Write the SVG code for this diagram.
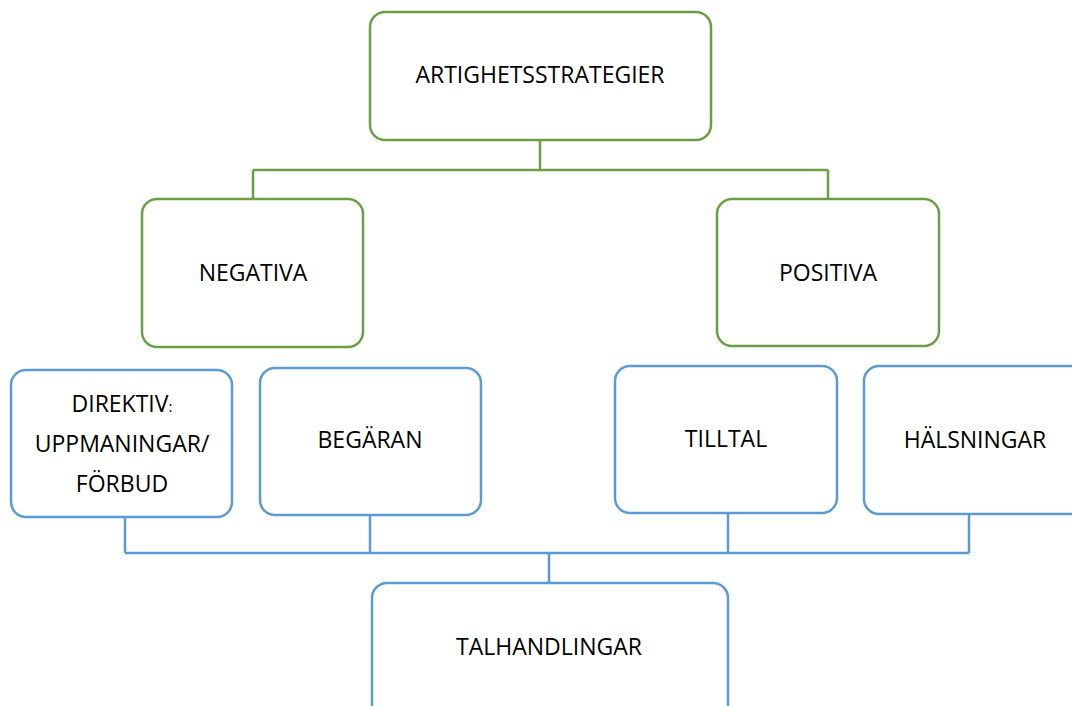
<svg xmlns="http://www.w3.org/2000/svg" width="1072" height="706" viewBox="0 0 1072 706">
<style>
.g{fill:#fff;stroke:#6c9f44;stroke-width:2.5}
.b{fill:#fff;stroke:#5b9bd5;stroke-width:2.5}
.cg{fill:none;stroke:#6c9f44;stroke-width:2.5}
.cb{fill:none;stroke:#5b9bd5;stroke-width:2.5}
text{font-family:"Open Sans","Liberation Sans",sans-serif;font-size:23px;fill:#000;text-anchor:middle}
</style>
<rect width="1072" height="706" fill="#fff"/>
<g id="connectors">
<path class="cg" d="M540,140 V170 M253,170 H828 M253,170 V199 M828,170 V199"/>
<path class="cb" d="M125,517 V553 M370,515 V553 M728,513 V553 M969,514 V553 M125,553 H969 M549,553 V583"/>
</g>
<g id="artighetsstrategier">
<rect class="g" x="370" y="12" width="341" height="128" rx="15"/>
<text x="540" y="83">ARTIGHETSSTRATEGIER</text>
</g>
<g id="negativa">
<rect class="g" x="142" y="199" width="221" height="148" rx="15"/>
<text x="253" y="281">NEGATIVA</text>
</g>
<g id="positiva">
<rect class="g" x="717" y="199" width="222" height="147" rx="15"/>
<text x="828" y="281">POSITIVA</text>
</g>
<g id="direktiv">
<rect class="b" x="11" y="370" width="221" height="147" rx="15"/>
<text x="122" y="412">DIREKTIV<tspan font-size="15">:</tspan></text>
<text x="122" y="452">UPPMANINGAR/</text>
<text x="122" y="492">FÖRBUD</text>
</g>
<g id="begaran">
<rect class="b" x="260" y="368" width="221" height="147" rx="15"/>
<text x="370" y="448">BEGÄRAN</text>
</g>
<g id="tilltal">
<rect class="b" x="615" y="366" width="222" height="147" rx="15"/>
<text x="726" y="447">TILLTAL</text>
</g>
<g id="halsningar">
<rect class="b" x="864" y="366" width="230" height="148" rx="15"/>
<text x="975" y="448">HÄLSNINGAR</text>
</g>
<g id="talhandlingar">
<rect class="b" x="372" y="583" width="356" height="140" rx="15"/>
<text x="549" y="655">TALHANDLINGAR</text>
</g>
</svg>
